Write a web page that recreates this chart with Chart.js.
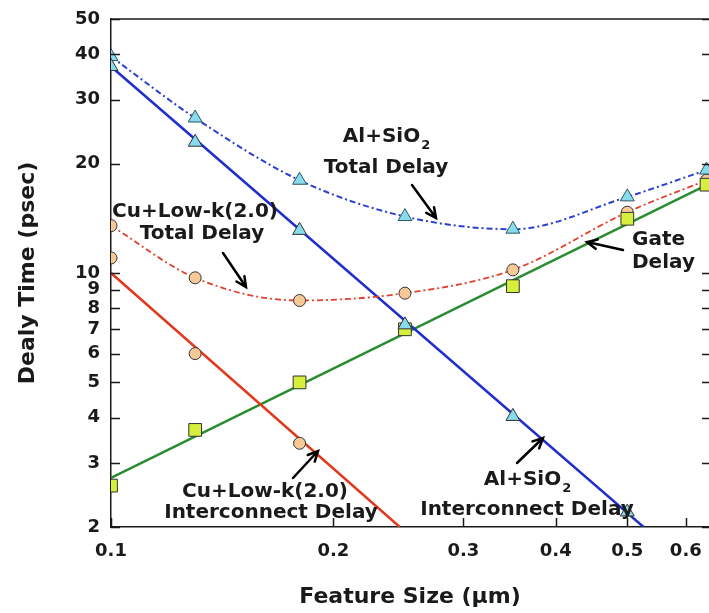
<!DOCTYPE html>
<html>
<head>
<meta charset="utf-8">
<script src="https://cdn.jsdelivr.net/npm/chart.js@4.4.0/dist/chart.umd.min.js"></script>
<style>
  html, body { margin: 0; padding: 0; background: #fff; }
  #delay { display: block; }
</style>
</head>
<body>
<canvas id="delay" width="709" height="613"></canvas>
<script>
// Delay vs feature size (log-log)

const featureSize = [0.1, 0.13, 0.18, 0.25, 0.35, 0.5, 0.64];

const alTotal = [39.4, 26.7, 18.0, 14.3, 13.2, 16.2, 19.2];
const alInterconnect = [37.0, 22.9, 13.1, 7.2, 4.03, 2.2];
const cuTotal = [13.5, 9.7, 8.4, 8.8, 10.2, 14.7, 18.0];
const cuInterconnect = [11.0, 6.0, 3.4];
const gateDelay = [2.6, 3.7, 5.0, 7.0, 9.2, 14.1, 17.5];

// straight fitted lines, end points
const alFitX = [0.1, 0.526];
const alFitY = [37, 2];
const cuFitX = [0.1, 0.246];
const cuFitY = [10, 2];
const gateFitX = [0.1, 0.645];
const gateFitY = [2.73, 17.6];

const xTicks = [0.1, 0.2, 0.3, 0.4, 0.5, 0.6];
const yTicks = [2, 3, 4, 5, 6, 7, 8, 9, 10, 20, 30, 40, 50];

const FONT = '"DejaVu Sans", sans-serif';
const INK = "#1a1a1a";

function pts(xs, ys) {
  return ys.map((y, i) => ({ x: xs[i], y: y }));
}

function markers(data, style, fill, r) {
  return {
    data: data,
    showLine: false,
    pointStyle: style,
    pointRadius: r,
    pointBackgroundColor: fill,
    pointBorderColor: "#333",
    pointBorderWidth: 1,
    order: 0,
  };
}

function fitLine(data, color) {
  return {
    data: data,
    borderColor: color,
    borderWidth: 2.5,
    pointRadius: 0,
    order: 2,
  };
}

// labels + arrows
const notes = [
  { text: "Al+SiO", sub: "2", x: 386, y: 137, align: "center" },
  { text: "Total Delay", x: 386, y: 168, align: "center" },
  { text: "Cu+Low-k(2.0)", x: 195, y: 212, align: "center" },
  { text: "Total Delay", x: 202, y: 234, align: "center" },
  { text: "Gate", x: 632, y: 240, align: "left" },
  { text: "Delay", x: 632, y: 263, align: "left" },
  { text: "Cu+Low-k(2.0)", x: 265, y: 492, align: "center" },
  { text: "Interconnect Delay", x: 271, y: 513, align: "center" },
  { text: "Al+SiO", sub: "2", x: 527, y: 480, align: "center" },
  { text: "Interconnect Delay", x: 527, y: 510, align: "center" },
];
const arrows = [
  [412, 185, 436, 218],
  [223, 253, 246, 287],
  [623, 250, 587, 242],
  [293, 478, 318, 451],
  [517, 463, 543, 438],
];

const decor = {
  id: "decor",
  afterDraw(chart) {
    const ctx = chart.ctx;
    const { left, right, top, bottom } = chart.chartArea;
    const xs = chart.scales.x;
    const ys = chart.scales.y;
    ctx.save();

    // top frame and inward ticks
    ctx.strokeStyle = INK;
    ctx.lineWidth = 1.5;
    ctx.beginPath();
    ctx.moveTo(left, top);
    ctx.lineTo(right, top);
    yTicks.forEach((v) => {
      const y = Math.round(ys.getPixelForValue(v)) + 0.5;
      ctx.moveTo(left, y);
      ctx.lineTo(left + 9, y);
      ctx.moveTo(right, y);
      ctx.lineTo(right - 7, y);
    });
    xTicks.forEach((v) => {
      const x = Math.round(xs.getPixelForValue(v)) + 0.5;
      ctx.moveTo(x, bottom);
      ctx.lineTo(x, bottom - 9);
    });
    ctx.stroke();

    // annotation text
    ctx.fillStyle = INK;
    ctx.textBaseline = "middle";
    notes.forEach((n) => {
      ctx.font = "bold 20px " + FONT;
      const w = ctx.measureText(n.text).width;
      let sw = 0;
      if (n.sub) {
        ctx.font = "bold 13px " + FONT;
        sw = ctx.measureText(n.sub).width;
      }
      let x0 = n.align === "center" ? n.x - (w + sw) / 2 : n.x;
      ctx.textAlign = "left";
      ctx.font = "bold 20px " + FONT;
      ctx.fillText(n.text, x0, n.y);
      if (n.sub) {
        ctx.font = "bold 13px " + FONT;
        ctx.fillText(n.sub, x0 + w + 1, n.y + 9);
      }
    });

    // arrows
    ctx.strokeStyle = "#000";
    ctx.lineWidth = 2.5;
    ctx.lineCap = "round";
    arrows.forEach((a) => {
      const [x1, y1, x2, y2] = a;
      const ang = Math.atan2(y2 - y1, x2 - x1);
      ctx.beginPath();
      ctx.moveTo(x1, y1);
      ctx.lineTo(x2, y2);
      ctx.moveTo(x2 - 11 * Math.cos(ang - 0.45), y2 - 11 * Math.sin(ang - 0.45));
      ctx.lineTo(x2, y2);
      ctx.lineTo(x2 - 11 * Math.cos(ang + 0.45), y2 - 11 * Math.sin(ang + 0.45));
      ctx.stroke();
    });
    ctx.restore();
  },
};

new Chart(document.getElementById("delay"), {
  type: "line",
  data: {
    datasets: [
      {
        data: pts(featureSize, alTotal),
        borderColor: "#2b3fd0",
        borderWidth: 2,
        borderDash: [6, 3, 2, 3],
        cubicInterpolationMode: "monotone",
        pointStyle: "triangle",
        pointRadius: 8,
        pointBackgroundColor: "#86dcec",
        pointBorderColor: "#2e5560",
        pointBorderWidth: 1,
        order: 1,
      },
      {
        data: pts(featureSize, cuTotal),
        borderColor: "#e0402c",
        borderWidth: 1.8,
        borderDash: [6, 3, 2, 3],
        cubicInterpolationMode: "monotone",
        pointStyle: "circle",
        pointRadius: 6,
        pointBackgroundColor: "#f6c997",
        pointBorderColor: "#333",
        pointBorderWidth: 1,
        order: 1,
      },
      markers(pts(featureSize, alInterconnect), "triangle", "#86dcec", 8),
      markers(pts(featureSize, cuInterconnect), "circle", "#f6c997", 6),
      markers(pts(featureSize, gateDelay), "rect", "#d6ef3c", 9),
      fitLine(pts(alFitX, alFitY), "#1f2fcc"),
      fitLine(pts(cuFitX, cuFitY), "#e2381e"),
      fitLine(pts(gateFitX, gateFitY), "#2a8c30"),
    ],
  },
  options: {
    responsive: false,
    animation: false,
    layout: { autoPadding: false, padding: { top: 19, right: 0, bottom: 0, left: 0 } },
    plugins: {
      legend: { display: false },
      tooltip: { enabled: false },
    },
    scales: {
      x: {
        type: "logarithmic",
        min: 0.1,
        max: 0.645,
        afterBuildTicks: (s) => { s.ticks = xTicks.map((v) => ({ value: v })); },
        afterFit: (s) => {
          s.height = 86;
          s.paddingLeft = 0;
          s.paddingRight = 0;
        },
        grid: { display: false, drawTicks: false },
        border: { display: true, color: INK, width: 1.5 },
        ticks: {
          autoSkip: false,
          maxRotation: 0,
          padding: 14,
          color: INK,
          font: { family: FONT, size: 18, weight: "bold" },
          callback: (v) => String(v),
        },
        title: {
          display: true,
          text: "Feature Size (\u03bcm)",
          color: INK,
          padding: { top: 0, bottom: 3 },
          font: { family: FONT, size: 22, weight: "bold" },
        },
      },
      y: {
        type: "logarithmic",
        min: 2,
        max: 50,
        afterBuildTicks: (s) => { s.ticks = yTicks.map((v) => ({ value: v })); },
        afterFit: (s) => {
          s.width = 111;
          s.paddingTop = 0;
          s.paddingBottom = 0;
        },
        grid: { display: false, drawTicks: false },
        border: { display: true, color: INK, width: 1.5 },
        ticks: {
          autoSkip: false,
          padding: 11,
          color: INK,
          font: { family: FONT, size: 18, weight: "bold" },
          callback: (v) => String(v),
        },
        title: {
          display: true,
          text: "Dealy Time (psec)",
          color: INK,
          padding: { top: 15, bottom: 0 },
          font: { family: FONT, size: 22, weight: "bold" },
        },
      },
    },
  },
  plugins: [decor],
});
</script>
</body>
</html>
